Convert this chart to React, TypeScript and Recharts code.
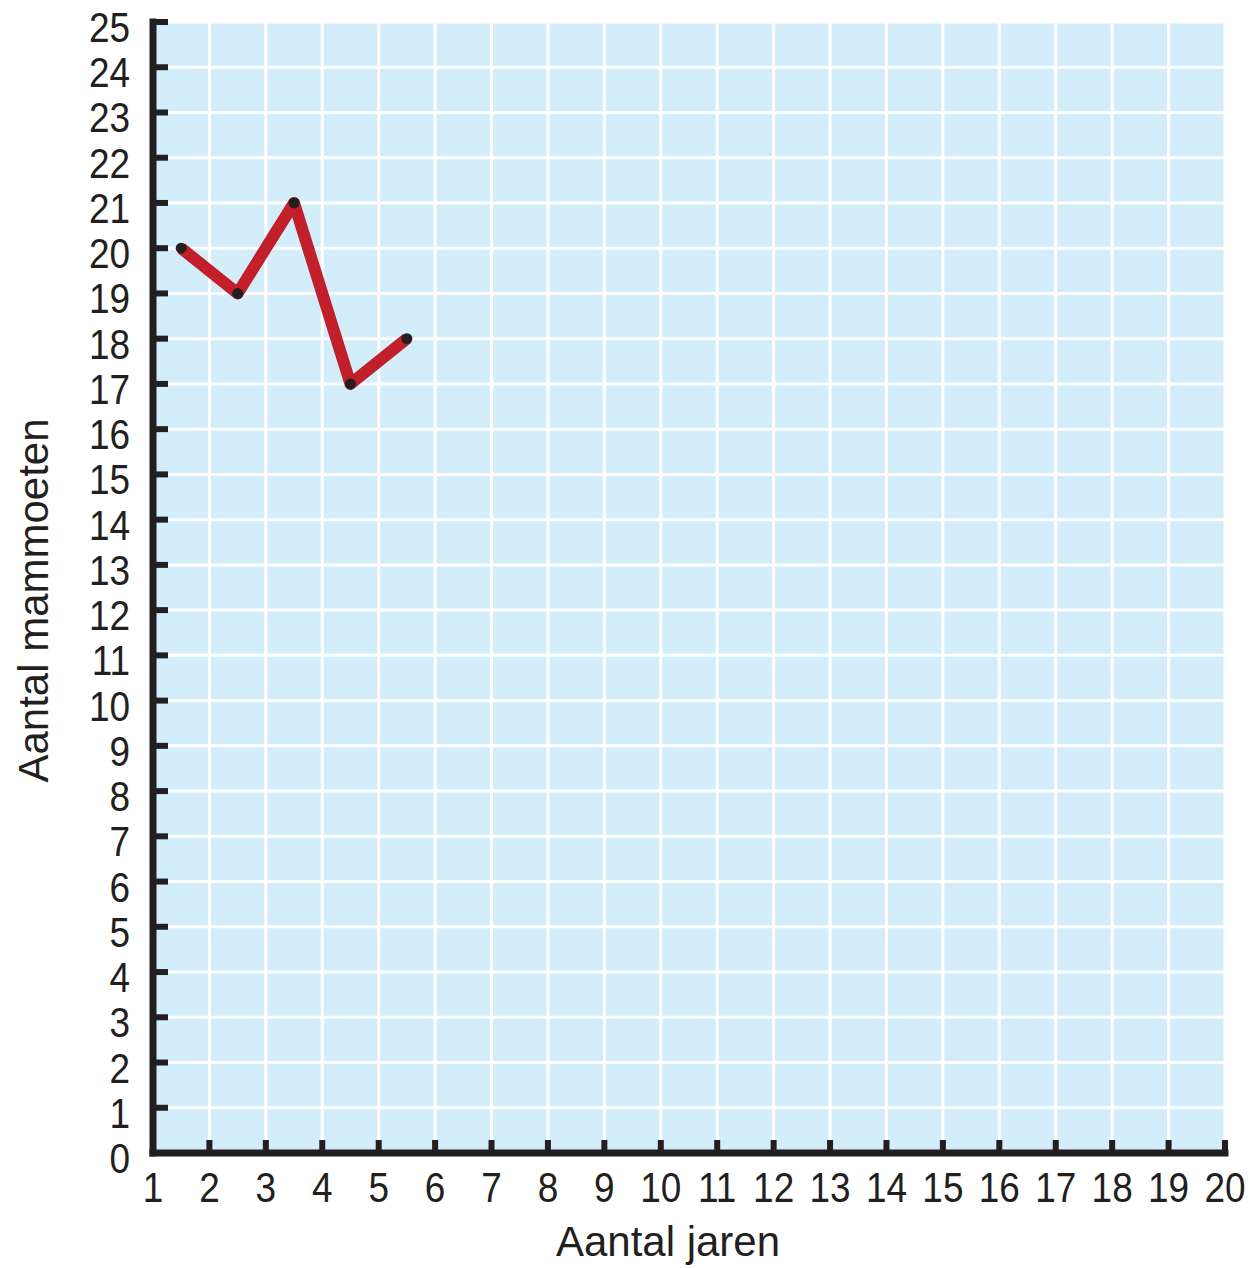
import React from 'react';
import { LineChart, Line, XAxis, YAxis, CartesianGrid, Label } from 'recharts';

const years = [1.5, 2.5, 3.5, 4.5, 5.5];
const mammoths = [20, 19, 21, 17, 18];
const xTicks = [1, 2, 3, 4, 5, 6, 7, 8, 9, 10, 11, 12, 13, 14, 15, 16, 17, 18, 19, 20];
const yTicks = [0, 1, 2, 3, 4, 5, 6, 7, 8, 9, 10, 11, 12, 13, 14, 15, 16, 17, 18, 19, 20, 21, 22, 23, 24, 25];
const xTitle = 'Aantal jaren';
const yTitle = 'Aantal mammoeten';

const data = years.map((x, i) => ({ x, y: mammoths[i] }));

const INK = '#231f20';
const NUM_FONT = "'Liberation Sans', Arial, sans-serif";
const TITLE_FONT = "'Liberation Sans', Arial, sans-serif";
const NUM_SIZE = 42;
const NUM_SCALE_X = 0.88;

const XTick = (props: any) => {
  const { x, y, payload } = props;
  return (
    <g>
      <line x1={x} x2={x} y1={y} y2={y - 13} stroke={INK} strokeWidth={6} />
      <text
        x={0}
        y={0}
        transform={`translate(${x}, ${y + 49}) scale(${NUM_SCALE_X}, 1)`}
        textAnchor="middle"
        fontFamily={NUM_FONT}
        fontSize={NUM_SIZE}
        fill={INK}
      >
        {payload.value}
      </text>
    </g>
  );
};

const YTick = (props: any) => {
  const { x, y, payload } = props;
  return (
    <g>
      <line x1={x} x2={x + 15} y1={y} y2={y} stroke={INK} strokeWidth={6} />
      <text
        x={0}
        y={0}
        transform={`translate(${x - 23}, ${y + 20}) scale(${NUM_SCALE_X}, 1)`}
        textAnchor="end"
        fontFamily={NUM_FONT}
        fontSize={NUM_SIZE}
        fill={INK}
      >
        {payload.value}
      </text>
    </g>
  );
};

const XTitle = (props: any) => {
  const vb = props.viewBox;
  return (
    <text x={vb.x + vb.width / 2 - 21} y={vb.y + 103} textAnchor="middle" fontFamily={TITLE_FONT} fontSize={42} fill={INK}>
      {xTitle}
    </text>
  );
};

const YTitle = (props: any) => {
  const vb = props.viewBox;
  const cx = vb.x + 48;
  const cy = vb.y + vb.height / 2 + 13;
  return (
    <text x={cx} y={cy} textAnchor="middle" transform={`rotate(-90, ${cx}, ${cy})`} fontFamily={TITLE_FONT} fontSize={42} fill={INK}>
      {yTitle}
    </text>
  );
};

export default function App() {
  return (
    <div style={{ position: 'absolute', left: 0, top: 0, background: '#fff' }}>
      <LineChart width={1254} height={1268} data={data} margin={{ top: 22, right: 29, bottom: 0, left: 0 }}>
        <CartesianGrid fill="#d3edfb" stroke="#ffffff" strokeWidth={3} strokeDasharray="" />
        <XAxis
          dataKey="x"
          type="number"
          domain={[1, 20]}
          ticks={xTicks}
          interval={0}
          height={115}
          tickSize={0}
          tickMargin={0}
          tick={<XTick />}
          axisLine={{ stroke: INK, strokeWidth: 7, strokeLinecap: 'square' }}
          tickLine={false}
        >
          <Label content={<XTitle />} />
        </XAxis>
        <YAxis
          type="number"
          domain={[0, 25]}
          ticks={yTicks}
          interval={0}
          width={153}
          tickSize={0}
          tickMargin={0}
          tick={<YTick />}
          axisLine={{ stroke: INK, strokeWidth: 7, strokeLinecap: 'square' }}
          tickLine={false}
        >
          <Label content={<YTitle />} />
        </YAxis>
        <Line
          dataKey="y"
          type="linear"
          stroke="#c1202a"
          strokeWidth={12}
          strokeLinejoin="round"
          dot={{ r: 5.5, fill: INK, stroke: 'none' }}
          activeDot={false}
          isAnimationActive={false}
        />
      </LineChart>
    </div>
  );
}
